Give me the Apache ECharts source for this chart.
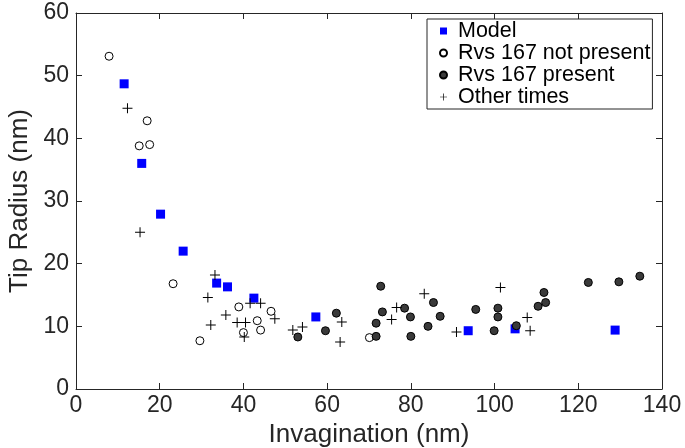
<!DOCTYPE html>
<html><head><meta charset="utf-8">
<script src="https://cdn.jsdelivr.net/npm/echarts@6/dist/echarts.min.js"></script>
<style>html,body{margin:0;padding:0;background:#fff}#c{width:685px;height:448px}</style>
</head><body><div id="c"></div>
<script>
const xTicks = [0, 20, 40, 60, 80, 100, 120, 140];
const yTicks = [0, 10, 20, 30, 40, 50, 60];
const modelPts = [[11.5,48.7],[15.7,36.0],[20.2,27.9],[25.6,22.0],[33.6,16.9],[36.2,16.3],[42.5,14.5],[57.3,11.5],[93.7,9.3],[104.9,9.6],[128.8,9.4]];
const notPresentPts = [[7.9,53.1],[17.0,42.8],[15.1,38.8],[17.6,39.0],[23.2,16.8],[38.9,13.1],[46.6,12.4],[43.3,10.9],[44.1,9.4],[40.0,9.0],[29.6,7.7],[70.1,8.2]];
const presentPts = [[53.0,8.3],[62.2,12.1],[59.6,9.3],[72.8,16.4],[73.2,12.3],[71.7,10.5],[71.7,8.4],[78.5,12.9],[79.9,11.5],[80.0,8.4],[85.4,13.8],[87.0,11.6],[84.1,10.0],[95.5,12.7],[99.9,9.3],[100.8,12.9],[100.8,11.5],[105.2,10.1],[111.8,15.4],[112.2,13.8],[110.4,13.2],[122.4,17.0],[129.7,17.1],[134.7,18.0]];
const otherPts = [[12.3,44.8],[15.3,25.0],[33.2,18.2],[31.5,14.6],[41.6,13.7],[44.1,13.7],[47.5,11.2],[35.8,11.8],[38.5,10.6],[40.5,10.6],[32.2,10.2],[40.2,8.3],[51.8,9.4],[54.1,9.9],[63.5,10.7],[63.1,7.5],[76.6,13.0],[75.4,11.1],[83.2,15.2],[90.9,9.1],[101.4,16.2],[107.8,11.4],[108.5,9.3]];
const seriesNames = ['Model', 'Rvs 167 not present', 'Rvs 167 present', 'Other times'];

const FONT = '"Liberation Sans", Arial, Helvetica, sans-serif';
const AX = '#262626';
const plusPath = 'path://M4.5,0h1v10h-1zM0,4.5h10v1h-10z';

function axisBase(extra) {
  return Object.assign({
    axisLine: { show: true, onZero: false, lineStyle: { color: AX, width: 1 } },
    axisTick: { show: true, inside: true, length: 6, lineStyle: { color: AX } },
    splitLine: { show: false },
    axisLabel: { color: AX, fontSize: 23, fontFamily: FONT }
  }, extra);
}

const chart = echarts.init(document.getElementById('c'));
chart.setOption({
  animation: false,
  backgroundColor: '#fff',
  grid: { left: 76, right: 23, top: 13, bottom: 59, show: false, containLabel: false, outerBoundsMode: 'none' },
  xAxis: [
    axisBase({ type: 'value', min: xTicks[0], max: xTicks[xTicks.length-1], interval: 20, position: 'bottom',
      name: 'Invagination (nm)', nameLocation: 'middle', nameGap: 23,
      nameTextStyle: { color: AX, fontSize: 26, fontFamily: FONT },
      axisLabel: { color: AX, fontSize: 23, fontFamily: FONT, margin: 5 } }),
    axisBase({ type: 'value', min: xTicks[0], max: xTicks[xTicks.length-1], interval: 20, position: 'top',
      axisLabel: { show: false } })
  ],
  yAxis: [
    axisBase({ type: 'value', min: yTicks[0], max: yTicks[yTicks.length-1], interval: 10, position: 'left',
      name: 'Tip Radius (nm)', nameLocation: 'middle', nameGap: 33,
      nameTextStyle: { color: AX, fontSize: 26, fontFamily: FONT },
      axisLabel: { color: AX, fontSize: 23, fontFamily: FONT, margin: 7 } }),
    axisBase({ type: 'value', min: yTicks[0], max: yTicks[yTicks.length-1], interval: 10, position: 'right',
      axisLabel: { show: false } })
  ],
  legend: {
    orient: 'vertical', left: 427, top: 19,
    padding: [1, 2, 1, 12], itemGap: 0, itemWidth: 7, itemHeight: 7,
    backgroundColor: '#fff', borderColor: AX, borderWidth: 1,
    textStyle: { color: '#000', fontSize: 21.5, fontFamily: FONT, padding: [0, 0, 0, 6] },
    data: seriesNames
  },
  series: [
    { name: seriesNames[0], type: 'scatter', data: modelPts, symbol: 'rect', symbolSize: 9,
      itemStyle: { color: '#0000ff', opacity: 1 } },
    { name: seriesNames[1], type: 'scatter', data: notPresentPts, symbol: 'circle', symbolSize: 8,
      itemStyle: { color: '#fff', borderColor: '#000', borderWidth: 1, opacity: 1 } },
    { name: seriesNames[2], type: 'scatter', data: presentPts, symbol: 'circle', symbolSize: 8,
      itemStyle: { color: '#3a3a3a', borderColor: '#000', borderWidth: 1, opacity: 1 } },
    { name: seriesNames[3], type: 'scatter', data: otherPts, symbol: plusPath, symbolSize: 10,
      itemStyle: { color: '#000', opacity: 1 } }
  ]
});
</script></body></html>
